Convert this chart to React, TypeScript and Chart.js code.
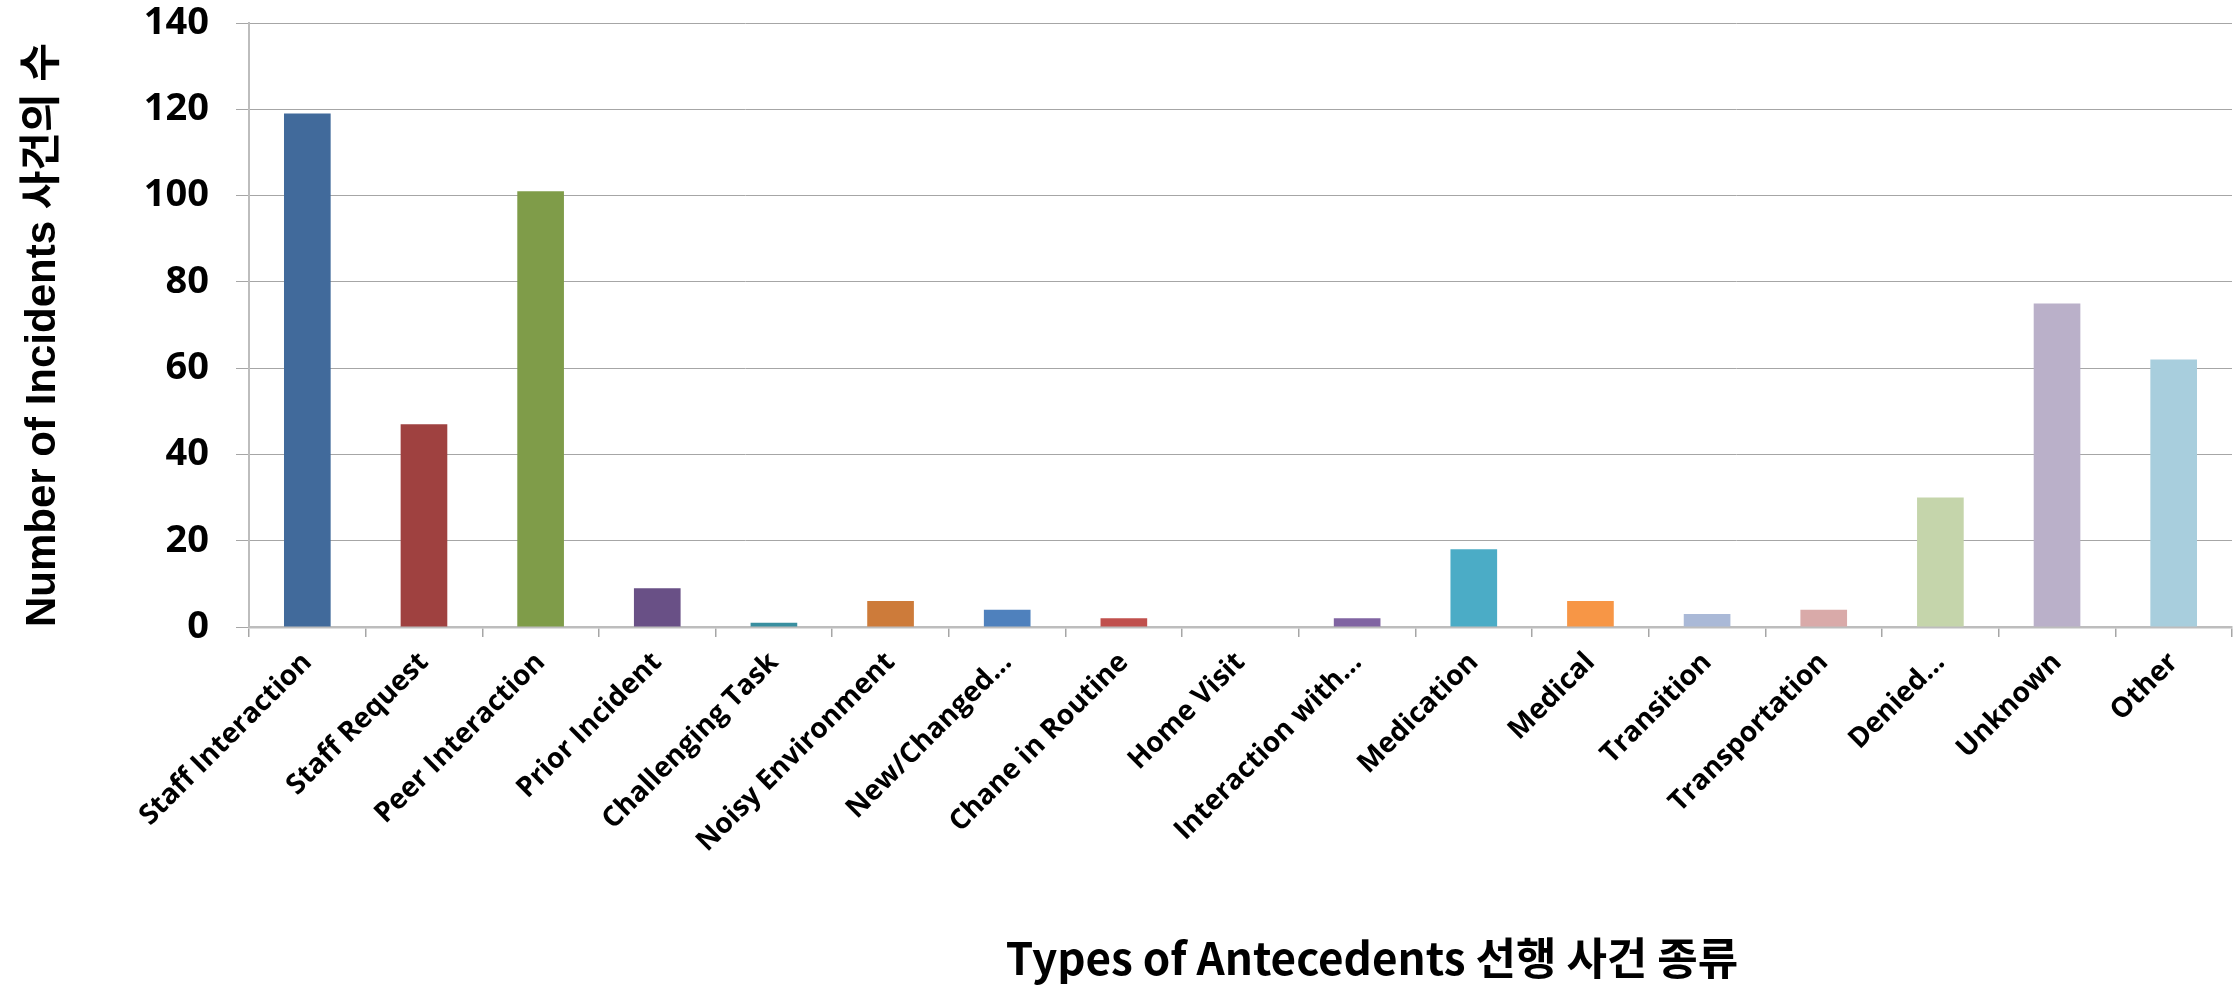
import React, { useEffect, useRef } from "react";
import { Chart, registerables } from "chart.js";

Chart.register(...registerables);

const categories = [
  "Staff Interaction",
  "Staff Request",
  "Peer Interaction",
  "Prior Incident",
  "Challenging Task",
  "Noisy Environment",
  "New/Changed...",
  "Chane in Routine",
  "Home Visit",
  "Interaction with...",
  "Medication",
  "Medical",
  "Transition",
  "Transportation",
  "Denied...",
  "Unknown",
  "Other",
];

const incidents = [119, 47, 101, 9, 1, 6, 4, 2, 0, 2, 18, 6, 3, 4, 30, 75, 62];

const barColors = [
  "#416A9B",
  "#9F4140",
  "#7F9C49",
  "#695086",
  "#398FA0",
  "#CD7B3A",
  "#4F81BD",
  "#C0504D",
  "#9BBB59",
  "#8064A2",
  "#4BACC6",
  "#F79646",
  "#AAB9D7",
  "#D9AAA9",
  "#C5D5AB",
  "#BAB0C9",
  "#A8CEDD",
];

const yTickValues = [0, 20, 40, 60, 80, 100, 120, 140];

const xTitle = "Types of Antecedents 선행 사건 종류";
const yTitle = "Number of Incidents 사건의 수";

const titlePlugin = {
  id: "axisTitles",
  afterDraw(chart: any) {
    const ctx = chart.ctx as CanvasRenderingContext2D;
    const area = chart.chartArea;
    ctx.save();
    ctx.fillStyle = "#000000";
    ctx.font = "bold 44px 'Noto Sans CJK KR'";
    ctx.textAlign = "center";
    ctx.textBaseline = "alphabetic";
    ctx.fillText(xTitle, 1372, 975);
    ctx.restore();

    ctx.save();
    ctx.fillStyle = "#000000";
    ctx.font = "bold 42px 'Liberation Sans', 'Noto Sans CJK KR'";
    ctx.translate(55, area.bottom);
    ctx.rotate(-Math.PI / 2);
    ctx.textAlign = "left";
    ctx.textBaseline = "alphabetic";
    ctx.fillText(yTitle, 0, 0);
    ctx.restore();
  },
};

export default function App() {
  const canvasRef = useRef<HTMLCanvasElement | null>(null);

  useEffect(() => {
    document.body.style.margin = "0";
    const canvas = canvasRef.current;
    if (!canvas) return;
    const chart = new Chart(canvas, {
      type: "bar",
      data: {
        labels: categories,
        datasets: [
          {
            data: incidents,
            backgroundColor: barColors,
            borderWidth: 0,
            barPercentage: 0.4,
            categoryPercentage: 1,
          },
        ],
      },
      plugins: [titlePlugin],
      options: {
        responsive: false,
        animation: false,
        devicePixelRatio: 1,
        layout: { padding: { top: 23, right: 3, left: 0, bottom: 0 } },
        plugins: {
          legend: { display: false },
          tooltip: { enabled: false },
        },
        scales: {
          x: {
            offset: true,
            grid: {
              offset: true,
              drawOnChartArea: false,
              drawTicks: true,
              tickLength: 10,
              color: "#A6A6A6",
              lineWidth: 1.5,
            },
            border: { color: "#BDBDBD", width: 2.5 },
            ticks: {
              color: "#000000",
              font: { family: "'Open Sans'", size: 28, weight: "bold" },
              minRotation: 45,
              maxRotation: 45,
              padding: 9,
              autoSkip: false,
            },
            title: { display: false },
            afterFit: (scale: any) => {
              scale.height = 989 - 627;
              scale.paddingLeft = 0;
              scale.paddingRight = 0;
            },
          },
          y: {
            min: 0,
            max: 140,
            afterBuildTicks: (scale: any) => {
              scale.ticks = yTickValues.map((v) => ({ value: v }));
            },
            grid: {
              color: "#A6A6A6",
              lineWidth: 1,
              tickLength: 13,
            },
            border: { color: "#BDBDBD", width: 2 },
            ticks: {
              color: "#000000",
              font: { family: "'Open Sans'", size: 38, weight: "bold" },
              padding: 27,
            },
            title: { display: false },
            afterFit: (scale: any) => {
              scale.width = 249;
              scale.paddingTop = 0;
              scale.paddingBottom = 0;
            },
          },
        },
      },
    });
    return () => chart.destroy();
  }, []);

  return (
    <div style={{ width: 2235, height: 989, background: "#ffffff" }}>
      <canvas ref={canvasRef} width={2235} height={989} style={{ display: "block" }} />
    </div>
  );
}
